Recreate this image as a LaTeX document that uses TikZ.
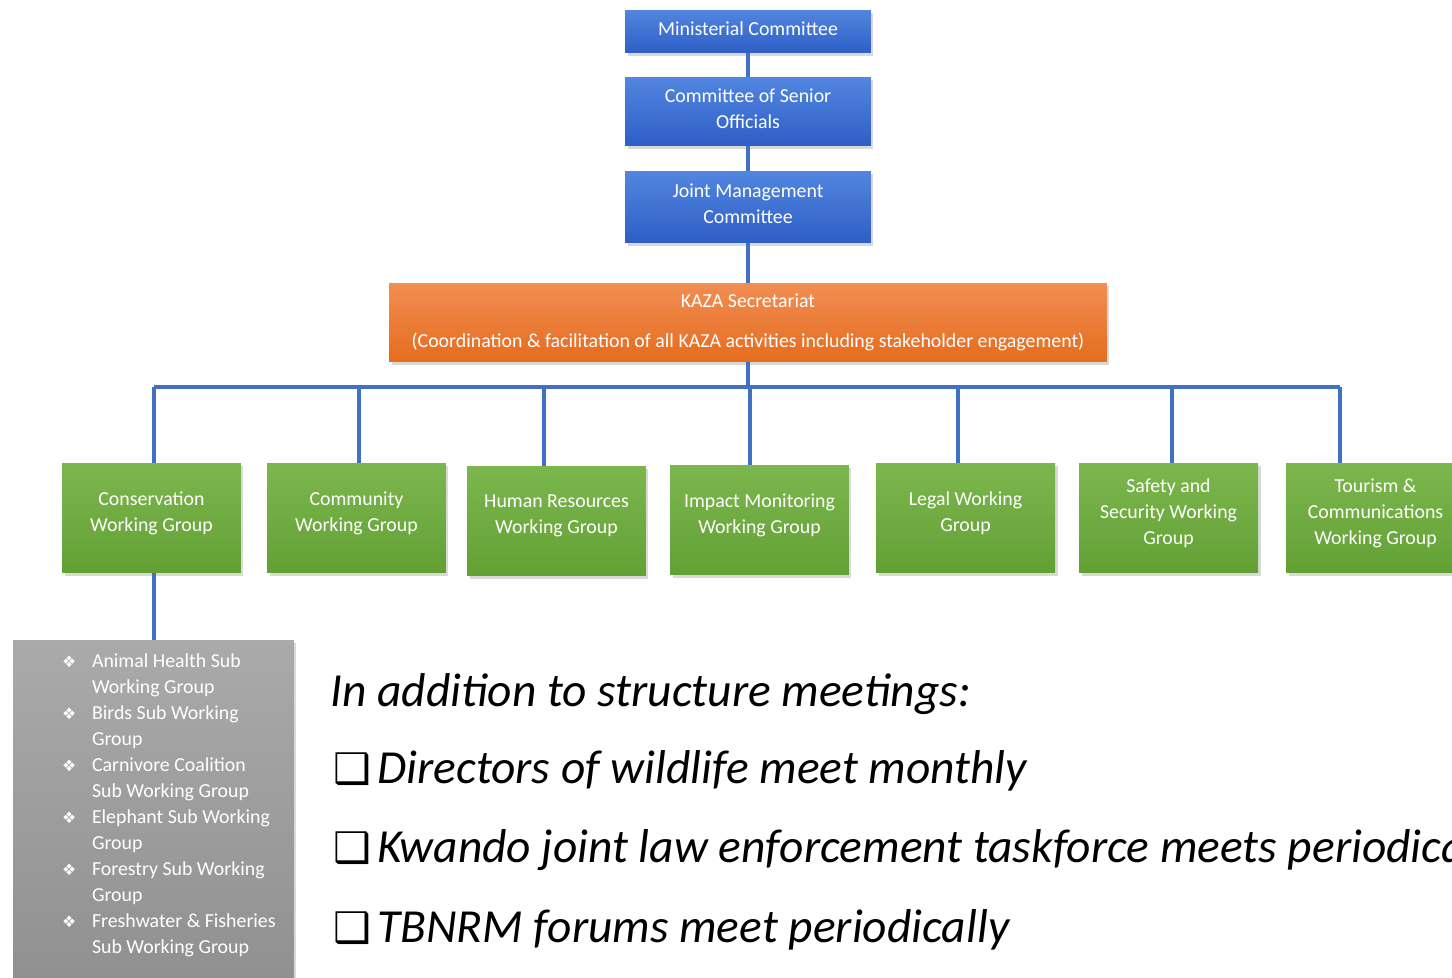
\documentclass[tikz,border=0pt]{standalone}
\usepackage{fontspec}
\setmainfont{Carlito}
\newfontfamily\symfont{DejaVu Sans}
\usetikzlibrary{shadows}

\definecolor{blueA}{RGB}{82,134,224}
\definecolor{blueB}{RGB}{46,94,198}
\definecolor{orangeA}{RGB}{241,142,82}
\definecolor{orangeB}{RGB}{229,108,30}
\definecolor{greenA}{RGB}{124,183,78}
\definecolor{greenB}{RGB}{98,160,52}
\definecolor{greyA}{RGB}{170,170,170}
\definecolor{greyB}{RGB}{142,142,142}
\definecolor{linkblue}{RGB}{66,112,196}

\newcommand{\subwg}[2]{\hspace*{0.98cm}\makebox[0.6cm][l]{\symfont\small ❖}#1\\
  \hspace*{1.58cm}#2\\}
\newcommand{\tick}{\makebox[0.88cm][l]{\symfont\upshape\fontsize{24}{28}\selectfont ❑}}

\begin{document}
\begin{tikzpicture}[x=0.02cm,y=-0.02cm,
  every node/.style={font=\fontsize{11.3}{14.8}\selectfont},
  shade/.style={drop shadow={opacity=0.3,shadow xshift=0.05cm,shadow yshift=-0.06cm}},
  topbox/.style={shade,text=white,align=center,minimum width=4.92cm,text depth=0.13cm,
    top color=blueA,bottom color=blueB},
  secbox/.style={shade,text=white,align=center,minimum width=14.36cm,minimum height=1.58cm,
    top color=orangeA,bottom color=orangeB},
  wgbox/.style={shade,text=white,align=center,minimum width=3.58cm,minimum height=2.2cm,
    text depth=0.26cm,top color=greenA,bottom color=greenB},
  subbox/.style={shade,text=white,anchor=north,inner sep=0pt,
    top color=greyA,bottom color=greyB},
  note/.style={anchor=base west,inner sep=0pt,font=\fontsize{27}{32}\selectfont\itshape},
  link/.style={draw=linkblue,line width=2.8pt}]
\useasboundingbox (0,0) rectangle (1452,977);
\clip (0,0) rectangle (1452,977);

% governance chain
\node[topbox,minimum height=0.86cm] (mc)  at (748,31.5) {Ministerial Committee};
\node[topbox,minimum height=1.38cm] (cso) at (748,111.5) {Committee of Senior\\Officials};
\node[topbox,minimum height=1.44cm] (jmc) at (748,207) {Joint Management\\Committee};
\node[secbox] (sec) at (748,322.5) {KAZA Secretariat\\[0.28cm]
  (Coordination \& facilitation of all KAZA activities including stakeholder engagement)};

\draw[link] (mc) -- (cso);
\draw[link] (cso) -- (jmc);
\draw[link] (jmc) -- (sec);

% working groups
\node[wgbox] (cwg) at (151.5,518) {Conservation\\Working Group};
\node[wgbox] (com) at (356.5,518) {Community\\Working Group};
\node[wgbox] (hr)  at (556.5,521) {Human Resources\\Working Group};
\node[wgbox] (imp) at (759.5,520) {Impact Monitoring\\Working Group};
\node[wgbox] (leg) at (965.5,518) {Legal Working\\Group};
\node[wgbox] (saf) at (1168.5,518) {Safety and\\Security Working\\Group};
\node[wgbox] (tou) at (1375.5,518) {Tourism \&\\Communications\\Working Group};

\coordinate (b1) at (154,387);
\coordinate (b2) at (359,387);
\coordinate (b3) at (544,387);
\coordinate (b4) at (750,387);
\coordinate (b5) at (958,387);
\coordinate (b6) at (1172,387);
\coordinate (b7) at (1340,387);

\draw[link] (b1) -- (b7);
\draw[link] (sec.south) -- (sec.south |- b4);
\draw[link] (b1) -- (b1 |- cwg.north);
\draw[link] (b2) -- (b2 |- com.north);
\draw[link] (b3) -- (b3 |- hr.north);
\draw[link] (b4) -- (b4 |- imp.north);
\draw[link] (b5) -- (b5 |- leg.north);
\draw[link] (b6) -- (b6 |- saf.north);
\draw[link] (b7) -- (b7 |- tou.north);

% sub working groups
\node[subbox] (sub) at (153.5,640) {\parbox[c][7.4cm][t]{5.62cm}{%
  \raggedright\baselineskip=0.52cm\vspace*{0.26cm}
  \subwg{Animal Health Sub}{Working Group}
  \subwg{Birds Sub Working}{Group}
  \subwg{Carnivore Coalition}{Sub Working Group}
  \subwg{Elephant Sub Working}{Group}
  \subwg{Forestry Sub Working}{Group}
  \subwg{Freshwater \& Fisheries}{Sub Working Group}}};
\draw[link] (b1 |- cwg.south) -- (b1 |- sub.north);

% meetings
\node[note] (intro) at (330,706) {In addition to structure meetings:};
\node[note] (m1) at (333,783) {\tick Directors of wildlife meet monthly};
\node[note] (m2) at (333,862) {\tick Kwando joint law enforcement taskforce meets periodically};
\node[note] (m3) at (333,942) {\tick TBNRM forums meet periodically};
\end{tikzpicture}
\end{document}
